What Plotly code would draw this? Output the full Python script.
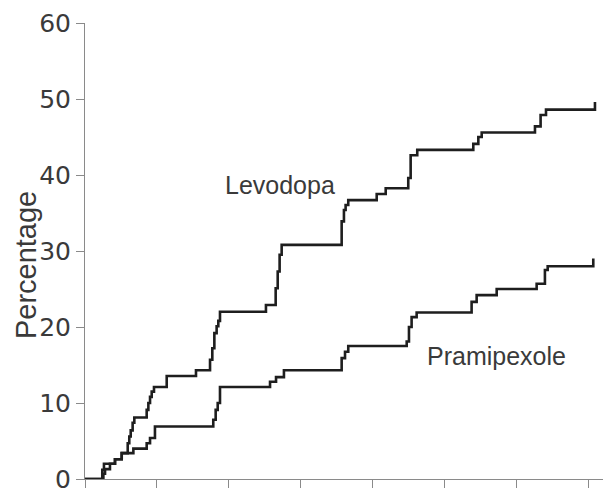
import plotly.graph_objects as go

# Time (months) at which each step occurs, and cumulative percentage after the step
levodopa_x = [0, 1.44, 1.58, 2.5, 3.06, 3.56, 3.69, 3.81, 3.97, 4.11, 5.14, 5.28, 5.42, 5.56,
              5.75, 6.81, 9.25, 10.42, 10.61, 10.78, 10.97, 11.11, 11.25, 15.08, 15.89, 16.06,
              16.22, 16.39, 21.39, 21.58, 21.72, 21.94, 24.31, 25.06, 26.94, 27.14, 27.69,
              32.36, 32.78, 33.06, 37.5, 37.97, 38.42, 42.5]
levodopa_y = [0, 1.2, 2.0, 2.6, 3.4, 4.7, 5.6, 6.4, 7.4, 8.1, 9.1, 10.0, 10.8, 11.5,
              12.1, 13.55, 14.3, 15.7, 17.2, 19.2, 20.1, 20.8, 22.0, 22.9, 25.1, 27.3,
              29.5, 30.8, 33.9, 35.4, 36.05, 36.7, 37.5, 38.25, 39.6, 42.6, 43.3,
              44.1, 45.0, 45.6, 46.4, 47.9, 48.6, 49.6]

pramipexole_x = [0, 1.53, 1.67, 2.08, 2.5, 3.06, 4.03, 5.14, 5.42, 5.83, 10.69, 10.89, 11.06,
                 11.25, 15.42, 15.92, 16.58, 21.39, 21.67, 21.94, 26.81, 27.0, 27.22, 27.64,
                 32.22, 32.64, 34.31, 37.64, 38.33, 38.56, 42.36]
pramipexole_y = [0, 0.7, 1.3, 2.0, 2.6, 3.4, 4.0, 4.7, 5.4, 6.9, 7.8, 9.1, 10.0,
                 12.1, 12.8, 13.4, 14.3, 15.9, 16.75, 17.5, 18.1, 20.0, 21.3, 21.9,
                 23.3, 24.2, 25.0, 25.7, 27.5, 28.0, 29.0]

y_ticks = [0, 10, 20, 30, 40, 50, 60]
x_ticks = [0, 6, 12, 18, 24, 30, 36, 42]
series_labels = ["Levodopa", "Pramipexole"]

FONT = "Liberation Sans, Arial, sans-serif"
TICKFONT = "DejaVu Sans, sans-serif"
TXT = "#3a3a3a"
LINE = "#1e1e1e"
AXIS = "#8a8a8a"

fig = go.Figure()
fig.add_trace(go.Scatter(x=levodopa_x, y=levodopa_y, mode="lines", line_shape="hv",
                         line=dict(color=LINE, width=2.6), name=series_labels[0],
                         showlegend=False, cliponaxis=False))
fig.add_trace(go.Scatter(x=pramipexole_x, y=pramipexole_y, mode="lines", line_shape="hv",
                         line=dict(color=LINE, width=2.6), name=series_labels[1],
                         showlegend=False, cliponaxis=False))

fig.add_annotation(x=16.25, y=38.7, text=series_labels[0], showarrow=False,
                   font=dict(family=FONT, size=25, color=TXT))
fig.add_annotation(x=34.3, y=16.2, text=series_labels[1], showarrow=False,
                   font=dict(family=FONT, size=25, color=TXT))
fig.add_annotation(xref="paper", yref="paper", x=-0.114, y=0.469, text="Percentage",
                   textangle=-90, showarrow=False, xanchor="center", yanchor="middle",
                   font=dict(family=FONT, size=29, color=TXT))

fig.update_layout(
    width=603, height=489,
    margin=dict(l=85, r=0, t=23, b=10, autoexpand=False),
    paper_bgcolor="white", plot_bgcolor="white",
    xaxis=dict(range=[0, 43.17], tickvals=x_ticks, showticklabels=False,
               ticks="outside", ticklen=8, tickcolor=AXIS, tickwidth=1,
               showline=True, linecolor=AXIS, linewidth=1, showgrid=False,
               zeroline=False, automargin=False),
    yaxis=dict(range=[0, 60], tickvals=y_ticks, ticks="outside", ticklen=8,
               tickcolor=AXIS, tickwidth=1, showline=True, linecolor=AXIS,
               linewidth=1, showgrid=False, zeroline=False, automargin=False,
               ticklabeloverflow="allow",
               tickfont=dict(family=TICKFONT, size=25, color=TXT)),
)

fig.write_html("out.html", config={"displayModeBar": False},
               post_script="document.body.style.margin='0';document.body.style.padding='0';")
